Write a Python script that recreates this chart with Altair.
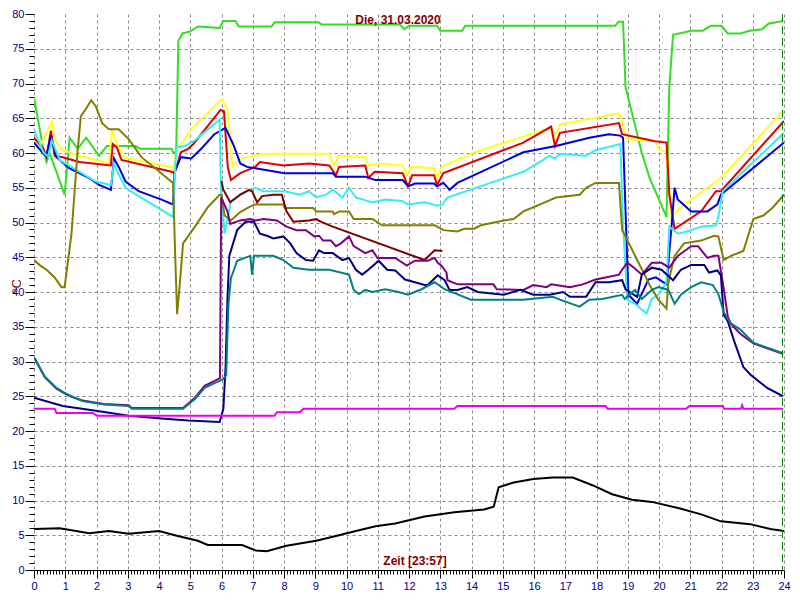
import altair as alt
import pandas as pd

# ---- data: [hour, °C] pairs per sensor ----
GREEN = [[0,68],[0.3,60.5],[0.4,58.7],[0.5,60],[0.98,54],[1.14,62.2],[1.4,60.6],[1.67,62.2],[2.08,59.6],[2.33,61],[2.7,61],[3.25,61],[3.4,60.6],[4.4,60.6],[4.45,60.1],[4.55,60.1],[4.62,76.1],[4.75,77.2],[5.0,77.5],[5.24,78.2],[5.95,78.0],[6.05,79.0],[6.45,79.0],[6.55,78.2],[7.6,78.2],[7.7,78.8],[9.1,78.8],[9.2,78.5],[11.7,78.5],[11.85,77.8],[12.0,78.3],[12.9,78.3],[13.0,77.6],[13.7,77.6],[13.8,78.3],[18.6,78.3],[18.7,78.9],[18.85,78.9],[18.93,69.5],[19.45,60],[19.7,56.4],[20.24,50.8],[20.33,69.5],[20.45,77],[21.03,77.6],[21.4,77.6],[21.66,78.3],[22.0,78.3],[22.2,77.2],[22.6,77.2],[22.9,77.6],[23.3,77.8],[23.5,78.6],[23.97,79]]
YELLOW = [[0,61.8],[0.2,61],[0.57,64.5],[0.66,62],[0.92,60.4],[1.45,59.6],[2.4,58.5],[2.5,63.4],[2.65,61.3],[2.87,59.4],[3.25,59],[4.4,58],[4.45,57.5],[4.55,60.1],[4.67,61],[5.03,63.4],[5.97,67.6],[6.03,67.6],[6.19,66.3],[6.35,58],[6.6,59.2],[7.35,59.9],[9.45,59.9],[9.6,58.2],[9.76,59.6],[10.6,59.4],[10.7,58.2],[11,58.5],[11.8,58.2],[11.93,56.8],[12.09,58],[12.8,57.8],[12.9,56.4],[13.04,58],[14.1,60.1],[16.5,63.6],[16.67,62.5],[16.83,64.1],[18.72,65.7],[18.8,64.8],[18.98,62],[19.87,61.7],[19.98,60.6],[20.24,60.1],[20.4,50.8],[20.7,52.2],[21.98,56.4],[24,66.2]]
RED = [[0,62.2],[0.3,60.6],[0.4,59.4],[0.54,63.2],[0.66,59.6],[0.92,59.4],[1.45,58.7],[2.46,58.2],[2.52,61.3],[2.65,60.8],[2.8,59],[4.4,57.3],[4.5,57.1],[4.7,60.1],[4.93,60.6],[5.1,61.3],[5.97,66.2],[6.08,66],[6.2,58],[6.3,56.1],[6.6,57.1],[7.08,58],[7.23,58.7],[7.98,58.2],[8.8,58.5],[9.45,58.2],[9.66,56.8],[9.76,58],[10.6,58.2],[10.7,56.4],[10.9,57.3],[11.8,57.1],[11.97,55.2],[12.1,56.8],[12.8,56.8],[12.9,55.4],[13.1,57.1],[15.66,61.5],[16.55,63.8],[16.67,61],[16.83,62.9],[18.72,64.3],[18.82,62.7],[19.87,61.7],[20.24,61.5],[20.33,54],[20.5,49.1],[21.35,51.6],[21.82,54.5],[21.98,54.5],[24,64.6]]
BLUE = [[0,61.5],[0.3,59.9],[0.4,59.6],[0.54,62.5],[0.72,59.4],[0.82,59],[1.14,57.8],[1.45,57.1],[1.77,56.4],[2.08,55.4],[2.46,54.7],[2.56,59.2],[2.71,58],[2.93,55.9],[3.35,54.5],[4.08,53.3],[4.45,52.6],[4.5,57.3],[4.7,59.4],[5.03,59.2],[5.35,60.6],[5.77,62.7],[6.13,63.6],[6.4,61],[6.6,58.5],[6.82,58],[7.08,57.8],[8.02,57.1],[9.56,57.1],[9.66,56.6],[10.6,56.6],[10.93,56.1],[11.8,56.1],[11.97,55.2],[12.19,55.6],[12.8,55.6],[12.9,55.2],[13.1,55.7],[13.3,54.7],[13.55,55.7],[15.66,60.1],[16.7,61],[17.77,62.2],[18.4,62.7],[18.76,62.5],[18.85,62.2],[19.02,39.6],[19.3,38.3],[19.66,41.8],[19.9,42.1],[20.24,41.1],[20.4,49.4],[20.5,55],[20.6,53.3],[21.03,51.6],[21.55,51.6],[21.87,52.6],[21.98,54],[24,61.5]]
CYAN = [[0,63.4],[0.3,60.1],[0.45,59.5],[0.57,61.8],[0.82,59],[1.45,57.3],[1.98,55.9],[2.46,55.4],[2.56,58.5],[2.7,57],[2.93,55],[3.35,53.8],[4.45,50.8],[4.55,60.8],[4.83,61],[5.14,61.8],[5.94,64.8],[5.98,55],[6.1,48.4],[6.3,53],[6.6,54],[7.08,55],[7.35,54.5],[8.02,54.5],[8.5,54],[8.8,54.5],[9.03,53.6],[9.35,54],[9.56,54.7],[9.87,53.6],[10.08,55],[10.3,53.6],[10.83,52.9],[11.24,53.3],[11.77,53.1],[11.97,52.6],[12.5,52.9],[12.92,52.4],[13.07,52.6],[13.23,53.6],[15.66,57.3],[16.5,59.6],[16.67,59.2],[16.83,59.9],[17.65,59.6],[17.97,60.4],[18.76,61.3],[18.85,50],[18.98,38.9],[19.23,38.3],[19.6,36.9],[19.77,39],[19.98,39.6],[20.24,41.4],[20.33,49.4],[20.6,48.4],[20.9,48.7],[21.35,49.4],[21.82,49.6],[21.9,50.8],[22.04,54.5],[24,62.9]]
OLIVE = [[0,44.6],[0.2,43.8],[0.4,43.2],[0.66,42.1],[0.88,40.7],[0.98,40.7],[1.2,48.4],[1.4,60.6],[1.5,65.3],[1.67,66.4],[1.83,67.6],[1.98,66.7],[2.18,64.3],[2.4,63.4],[2.71,63.4],[3.03,62],[3.44,59.4],[3.88,57.8],[4.45,55.7],[4.52,45],[4.58,36.8],[4.67,41.4],[4.77,47],[5.15,49.4],[5.56,52.2],[5.94,54],[6.0,54],[6.1,51],[6.3,50.3],[6.6,51.5],[6.88,52.2],[7.08,52.6],[7.98,52.6],[8.02,52.1],[8.93,52.1],[9.03,51.6],[9.56,51.6],[9.6,51.2],[9.77,51.6],[10.08,51.6],[10.23,50.5],[10.83,50.5],[11.14,49.6],[12.82,49.6],[13.1,48.9],[13.55,48.7],[13.77,49.1],[14.08,49.1],[14.3,49.6],[15.03,50.3],[15.35,50.5],[15.66,51.6],[15.98,52.2],[16.4,53],[16.7,53.6],[17.46,54],[17.67,55],[17.97,55.7],[18.72,55.7],[18.82,48.9],[19.04,47],[19.3,44.6],[19.55,42.4],[19.7,41],[19.98,38.9],[20.24,37.6],[20.3,41.4],[20.5,45.2],[20.8,47],[21.35,47.4],[21.76,48.1],[21.9,48],[22.07,44.6],[22.3,45.2],[22.7,45.9],[23.02,50.5],[23.34,51],[23.65,52.2],[24,54]]
MAROON = [[6.0,56],[6.05,54.8],[6.28,52.9],[6.6,54],[6.88,54.7],[6.98,54.5],[7.14,52.9],[7.3,53.8],[7.66,54],[7.93,54],[8.08,51.6],[8.3,50.1],[8.8,50.3],[9.03,50.5],[9.19,50.1],[9.56,49.4],[12.5,44.6],[12.82,46],[13.07,45.9]]
PURPLE = [[0,30.6],[0.35,27.7],[0.72,26.1],[0.98,25.4],[1.2,24.9],[1.55,24.4],[2.24,23.9],[3.03,23.7],[3.13,23.3],[4.77,23.3],[5.15,24.8],[5.46,26.5],[5.78,27.2],[5.95,27.6],[5.99,53.6],[6.19,51.6],[6.28,49.8],[6.6,50.3],[6.92,50.5],[7.08,50.3],[7.35,50.5],[7.77,50.3],[8.08,49.4],[8.4,48.9],[8.7,48.9],[8.97,48],[9.12,48.1],[9.25,47.4],[9.5,47.4],[9.66,46.6],[9.82,47],[10.08,48],[10.23,46.6],[10.6,45.6],[10.83,46],[10.99,44.9],[11.56,44.9],[11.93,43.8],[12.19,44.5],[12.6,44.5],[12.82,44.9],[12.92,44.2],[13.04,43.8],[13.2,42.8],[13.23,41.7],[13.55,41.1],[14.7,41.1],[14.81,40.4],[15.66,40.3],[15.98,41],[16.4,40.7],[16.55,41.1],[16.7,41],[17.15,40.7],[17.56,41.1],[17.97,41.8],[18.29,42.1],[18.72,42.5],[18.82,43.2],[18.98,44.2],[19.08,43.9],[19.2,43.5],[19.45,42.5],[19.77,44.2],[20.08,44.2],[20.33,43.5],[20.6,45.2],[21.03,46.6],[21.25,46.6],[21.55,44.9],[21.76,45.2],[21.9,45.2],[22.04,41.4],[22.2,36.5],[22.3,35.4],[22.6,34],[23.02,32.6],[23.46,31.9],[23.97,31.1]]
NAVY = [[0,24.8],[0.92,23.6],[1.98,22.9],[3.03,22.2],[4.08,21.8],[4.93,21.5],[5.94,21.3],[6.06,23.2],[6.13,29.2],[6.19,39],[6.25,45.2],[6.5,48.9],[6.77,50.1],[7.04,50.1],[7.23,48.4],[7.45,48.1],[7.66,47.7],[7.98,48],[8.2,47],[8.4,45.6],[8.7,44.6],[8.93,44.5],[9.12,46],[9.28,45.6],[9.56,45.6],[9.87,44.6],[10.08,44.9],[10.3,43.2],[10.5,42.5],[10.7,43.2],[11.03,44.5],[11.3,43.2],[11.56,43.1],[11.87,41.8],[12.19,41.4],[12.5,41],[12.6,41],[12.92,42.4],[13.14,41.7],[13.3,40.3],[13.55,40.3],[13.87,40.7],[14.2,40],[15.03,39.6],[15.56,40.3],[15.98,39.6],[16.5,39.6],[16.93,40],[17.15,39.3],[17.67,39.3],[17.97,41.4],[18.4,41.4],[18.82,41.7],[18.93,40.4],[19.3,39.3],[19.45,42.5],[19.77,43.5],[20.08,43.2],[20.45,41.7],[20.7,43.2],[21.03,43.9],[21.45,43.9],[21.6,42.8],[21.87,43.1],[21.98,42.4],[22.07,36.7],[22.2,35.8],[22.4,33],[22.7,29.2],[22.93,28.1],[23.46,26.2],[23.97,25]]
TEAL = [[0,30.6],[0.35,27.8],[0.72,26.2],[0.98,25.5],[1.2,25],[1.55,24.3],[2.24,23.8],[3.03,23.6],[3.13,23.2],[4.77,23.2],[5.15,24.6],[5.46,26.2],[5.78,26.9],[6.03,27.4],[6.15,28],[6.22,38],[6.3,42],[6.4,43.2],[6.5,44.5],[6.92,45.2],[6.98,42.5],[7.04,45.2],[7.66,45.2],[7.98,44.6],[8.3,43.5],[8.8,43.2],[9.45,43.2],[10.08,42.5],[10.23,40.3],[10.4,39.7],[10.6,40.3],[10.83,40],[11.24,40.4],[11.66,40],[11.97,39.6],[12.4,40.4],[12.82,41.4],[12.92,41.1],[13.14,40.4],[13.98,38.9],[15.66,38.9],[16.6,39.3],[16.83,38.9],[17.46,37.9],[17.77,38.9],[18.19,39],[18.82,39.6],[18.9,39],[19.23,40.3],[19.45,39],[19.77,40.3],[19.98,40.7],[20.3,40.3],[20.5,38.3],[20.7,39.6],[21.03,40.7],[21.35,41.4],[21.72,41],[21.9,39.7],[22.08,37],[22.3,35.5],[22.6,34.6],[23.02,32.7],[23.46,32],[23.97,31.2]]
MAGENTA = [[0,23.2],[0.66,23.2],[0.72,22.6],[1.87,22.6],[2.02,22.2],[7.7,22.2],[7.77,22.7],[8.5,22.7],[8.62,23.2],[13.45,23.2],[13.55,23.6],[18.29,23.6],[18.35,23.2],[20.87,23.2],[20.97,23.6],[22.04,23.6],[22.08,23.2],[22.62,23.2],[22.66,23.7],[22.7,23.2],[23.97,23.2]]
BLACK = [[0,5.9],[0.82,6.0],[1.77,5.3],[2.4,5.6],[3.03,5.2],[4.0,5.6],[4.6,4.9],[5.24,4.2],[5.56,3.6],[6.66,3.6],[7.1,2.8],[7.45,2.7],[8.08,3.5],[9.03,4.2],[9.66,4.9],[10.3,5.6],[10.93,6.3],[11.56,6.7],[12.5,7.7],[13.45,8.3],[14.4,8.7],[14.71,9.1],[14.87,11.9],[15.35,12.6],[15.98,13.1],[16.6,13.3],[17.24,13.3],[17.87,12.2],[18.5,10.9],[19.14,10.1],[19.77,9.8],[20.71,8.8],[21.35,8.0],[21.98,7.0],[22.92,6.6],[23.56,5.9],[24,5.6]]

SERIES = [GREEN, YELLOW, RED, BLUE, CYAN, OLIVE, MAROON, PURPLE, NAVY, TEAL, MAGENTA, BLACK]
COLORS = ["#33dd22", "#ffff22", "#e00000", "#0000dd", "#33eeee", "#808000",
          "#800000", "#800080", "#000080", "#008080", "#ee00ee", "#000000"]

TITLE = "Die, 31.03.2020"
XTITLE = "Zeit [23:57]"
NOW_HOUR = 23.95

X_TICKS = [round(i / 10, 1) for i in range(241)]
Y_TICKS = list(range(81))

FONT = "Liberation Sans"
is_hour = "abs(datum.value - round(datum.value)) < 0.001"

W, H = 750, 556

xscale = alt.Scale(domain=[0, 24], nice=False, zero=False)
yscale = alt.Scale(domain=[0, 80], nice=False)

xaxis = alt.Axis(
    values=X_TICKS, title=None, labelOverlap=False, labelFlush=False, labelBound=False,
    labelExpr=f"{is_hour} ? format(datum.value, 'd') : ''",
    tickSize={"condition": {"test": is_hour, "value": 8}, "value": 4},
    gridOpacity={"condition": {"test": is_hour, "value": 1}, "value": 0},
    grid=True, gridColor="#888888", gridDash=[3, 3], gridWidth=1,
    domain=True, domainColor="#000000", tickColor="#000000",
    labelColor="#000080", labelFont=FONT, labelFontSize=11, labelPadding=2,
)
is5 = "datum.value % 5 === 0"
yaxis = alt.Axis(
    values=Y_TICKS, labelOverlap=False, labelFlush=False, labelBound=False,
    labelExpr=f"{is5} ? datum.label : ''",
    tickSize={"condition": {"test": is5, "value": 9}, "value": 5},
    gridOpacity={"condition": {"test": f"{is5} && datum.value > 0 && datum.value < 80", "value": 1}, "value": 0},
    grid=True, gridColor="#888888", gridDash=[3, 3], gridWidth=1,
    domain=False, tickColor="#000000",
    labelColor="#000080", labelFont=FONT, labelFontSize=11, labelPadding=1,
    title="°C", titleColor="#800000", titleFont=FONT, titleFontSize=13,
    titleFontWeight="normal", titleX=-18, titleY=272, titleAngle=270,
    titleBaseline="middle", titleAlign="center",
)

layers = []
for i, (pts, col) in enumerate(zip(SERIES, COLORS)):
    df = pd.DataFrame(pts, columns=["h", "v"])
    df["k"] = range(len(df))
    layers.append(
        alt.Chart(df).mark_line(color=col, strokeWidth=2, clip=True).encode(
            x=alt.X("h:Q", scale=xscale, axis=xaxis),
            y=alt.Y("v:Q", scale=yscale, axis=yaxis),
            order="k:Q",
        )
    )

now_rule = alt.Chart(pd.DataFrame({"h": [NOW_HOUR]})).mark_rule(
    color="#008000", strokeDash=[8, 4], strokeWidth=1
).encode(x=alt.X("h:Q", scale=xscale, axis=xaxis))

title_txt = alt.Chart(pd.DataFrame({"t": [TITLE]})).mark_text(
    font=FONT, fontSize=12, fontWeight="bold", color="#800000"
).encode(text="t:N", x=alt.value(364), y=alt.value(6))

xtitle_txt = alt.Chart(pd.DataFrame({"t": [XTITLE]})).mark_text(
    font=FONT, fontSize=12, fontWeight="bold", color="#800000"
).encode(text="t:N", x=alt.value(381), y=alt.value(H - 9))

chart = alt.layer(*layers, now_rule, title_txt, xtitle_txt).properties(
    width=W, height=H,
    background="white",
    autosize=alt.AutoSizeParams(type="none"),
    padding={"left": 26, "top": 6, "right": 8, "bottom": 22},
).configure_view(stroke=None)

chart.save("out.html", embed_options={"renderer": "svg", "actions": False})
